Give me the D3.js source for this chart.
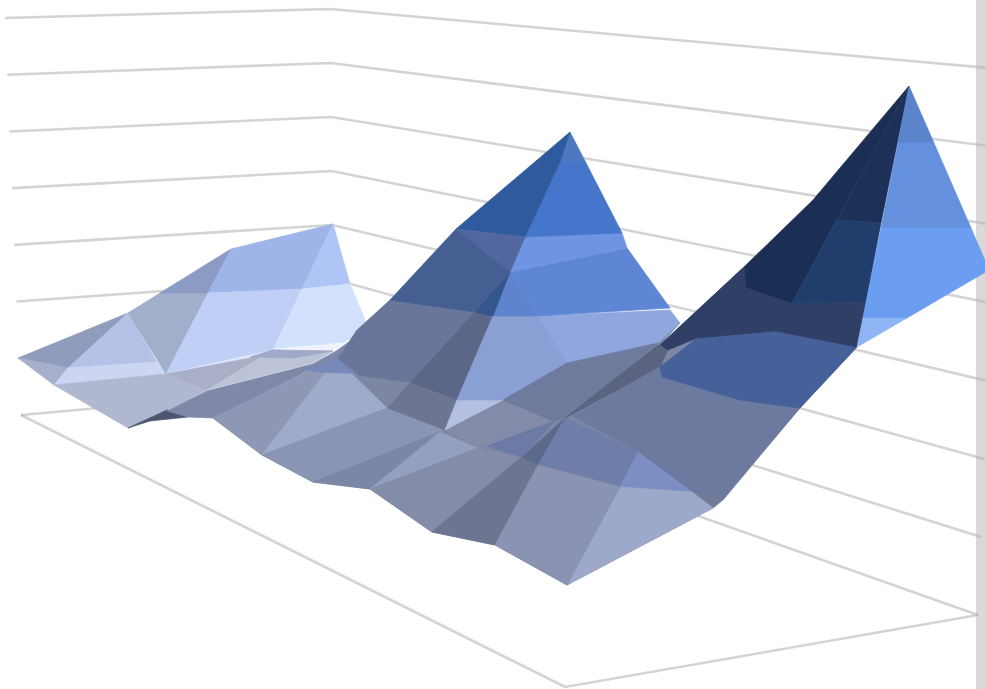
<!DOCTYPE html>
<html><head><meta charset="utf-8">
<script src="https://cdn.jsdelivr.net/npm/d3@7"></script>
<style>html,body{margin:0;padding:0;background:#fff;overflow:hidden}svg{display:block}</style>
</head><body><div id="chart"></div>
<script>
// Gridline levels and wall corners, in plot units (column across, height above the plot's lower edge)
const levels = [0,1,2,3,4,5,6,7];
const leftColumns  = [21,5];   const leftHeights  = [274,671];
const backColumns  = [334,330]; const backHeights  = [302,680];
const rightColumns = [978,1000]; const rightHeights = [74,620];
const frontColumn = 565, frontHeight = 2;

// Surface facets, listed back to front
const facetColumns = [
 [213,338,390,475,680,660,745,856,800,713,567,495,432,370,313,262],
 [18,128,68],[18,68,54],[128,68,157],[68,157,166,54],[128,160,208,166],[160,231,208],
 [231,333,302,208],[333,350,302],[208,302,273,166],[302,350,366,346,273],[166,273,250],[273,333,347],
 [54,166,207,168,128],[166,250,273,207],[207,273,333,313],[250,273,333,293],[128,167,188,150],
 [167,207,313,336,349,338,307,250,213,188],[213,250,308,325,262],[307,338,352,325],[325,352,387,262],
 [262,387,445,440,313],[313,440,370],[370,440,478],[370,478,519,432],[432,522,538,495],
 [445,503,553,487,478],[487,555,522],[522,565,538],
 [390,475,410,360,338,357],[475,493,457,410],[360,410,388],[410,457,445,388],[457,503,445],
 [493,538,567,503,457],[538,670,680,658,567],[493,510,538],[510,627,670,538],[525,622,627,510],
 [525,560,585,622],[570,560,585],[570,456,525,560],[456,525,510],[456,510,475,390],[510,493,475],
 [503,567,658,573,565,553],[565,658,668,660,573],
 [573,660,662,740,800,723,692,638],[692,723,713],[660,697,775,857,800,740,662],
 [660,745,746,792,866,857,775,697,668],[909,813,745,746,792],[909,837,881],[837,881,866,792],
 [909,934,898],[898,934,971,881],[881,971,989,907,863],[863,907,857],
 [565,638,620,538],[638,692,620],[620,692,713,567],[538,620,567,495]
];
const facetHeights = [
 [271,331,389,377,366,344,423,341,281,181,104,144,157,200,207,234],
 [331,376,321],[331,321,304],[376,321,327],[321,327,315,304],[376,396,396,315],[396,440,396],
 [440,465,400,396],[465,405,400],[396,400,339,315],[400,405,367,347,339],[315,339,331],[340,339,346],
 [304,315,299,279,261],[315,331,339,299],[299,339,338,326],[332,339,338,331],[261,279,272,268],
 [278,298,325,338,347,331,318,289,271,272],[271,289,318,316,234],[319,331,315,316],[316,315,281,234],
 [234,281,259,257,207],[207,257,200],[200,257,241],[200,241,232,157],[157,232,224,144],
 [259,289,269,243,241],[243,268,232],[232,271,224],
 [389,377,306,313,331,359],[377,374,289,306],[313,306,281],[306,289,259,281],[289,289,259],
 [373,373,326,289,289],[373,379,366,346,326],[373,417,373],[417,441,381,373],[452,456,441,417],
 [452,527,528,456],[557,527,528],[557,460,452,527],[460,452,417],[460,417,377,389],[417,373,377],
 [289,326,346,276,271,268],[271,344,339,322,275],
 [273,322,312,289,281,189,197,237],[197,189,181],[322,351,358,342,281,289,312],
 [344,423,402,386,387,342,358,351,339],[603,489,423,402,386],[603,469,466],[469,466,387,386],
 [603,546,546],[546,546,461,461],[461,461,419,371,371],[371,371,342],
 [271,237,203,224],[237,197,202],[202,197,181,104],[224,202,104,144]
];
const facetTones = [
 "#7c86a5",
 "#8f9cbc","#a6b0cc","#b3c2e6","#ccd6f3","#a3aecb","#8c9bc3",
 "#9eb5e9","#aec5f5","#bfcff5","#d3e2fc","#dfe7fb","#eef3ff",
 "#b0b8cf","#a9afc6","#bcc3d8","#a0a9c7","#4c566f",
 "#7f88a8","#8e98b5","#7689ba","#a0abcb",
 "#8a94b3","#7c86a5","#949fc1","#848da8","#6d7590",
 "#848ba8","#6c7aa6","#5a6a8c",
 "#6a7699","#5c6788","#7d86a2","#6d7590","#b4c0e2",
 "#8aa0d5","#8fa6de","#5f83cd","#5e86d4","#6f95e2",
 "#4676cb","#4e78c0","#2f5a9d","#52679f","#455f93","#34568c",
 "#6f7b9c","#5a6480",
 "#6d7a9f","#737c97","#46619a",
 "#2f3f66","#1b2f55","#1c3058","#213d6c",
 "#5b84cb","#6490de","#6b9df0","#8fb4f5",
 "#6f7ea8","#7c8fc4","#9da9ca","#8a94b2"
];

const W = 985, H = 689;
const x = d3.scaleLinear().domain([0,W]).range([0,W]);
const y = d3.scaleLinear().domain([0,H]).range([H,0]);
const svg = d3.select("#chart").append("svg").attr("width",W).attr("height",H).style("filter","blur(0.45px)");
const path = d3.line().x(d=>x(d[0])).y(d=>y(d[1]));

svg.append("rect").attr("x",976).attr("y",0).attr("width",10).attr("height",H).attr("fill","#d9d9d9");

const along = (cols,hs) => {
  const c = d3.scaleLinear().domain([0,7]).range(cols);
  const h = d3.scaleLinear().domain([0,7]).range(hs);
  return l => [c(l),h(l)];
};
const leftAt = along(leftColumns,leftHeights), backAt = along(backColumns,backHeights), rightAt = along(rightColumns,rightHeights);

const grid = svg.append("g").attr("fill","none").attr("stroke","#b0b0b0").attr("stroke-opacity",0.55).attr("stroke-width",2.6);
grid.selectAll("path.level").data(levels).join("path").attr("class","level")
  .attr("d",l=>path([leftAt(l),backAt(l),rightAt(l)]));
grid.append("path").attr("d",path([leftAt(0),[frontColumn,frontHeight],rightAt(0)]));

svg.append("g").selectAll("path").data(facetColumns.map((c,i)=>c.map((v,j)=>[v,facetHeights[i][j]]))).join("path")
  .attr("d",d=>path(d)+"Z")
  .attr("fill",(d,i)=>facetTones[i])
  .attr("stroke",(d,i)=>facetTones[i])
  .attr("stroke-width",0.7)
  .attr("stroke-linejoin","round");
</script></body></html>
